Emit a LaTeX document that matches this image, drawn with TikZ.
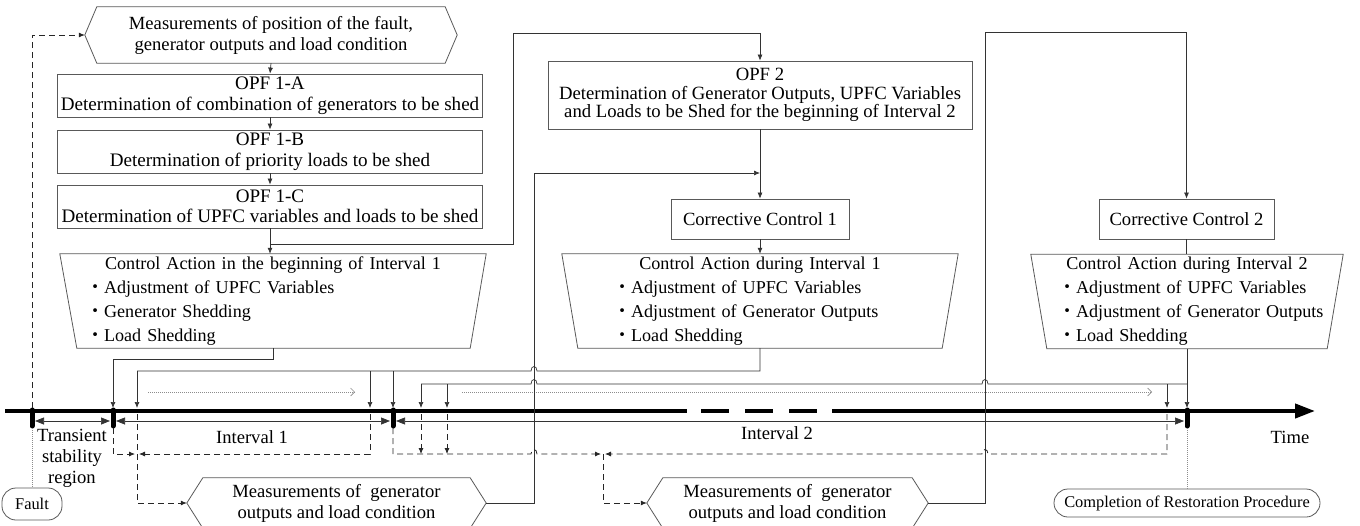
\documentclass[tikz,border=0pt]{standalone}
\usepackage{fontspec}
\setmainfont{Liberation Serif}
\newfontfamily\cjk{Noto Sans CJK JP}
\usetikzlibrary{arrows.meta}
\newcommand\bulletmark{{\cjk ・}}
\newcommand\boxfont{\fontsize{19.1}{20.5}\selectfont}
\newcommand\mainfont{\fontsize{18.6}{21}\selectfont}
\newcommand\listfont{\fontsize{18.1}{24}\selectfont}
\newcommand\smallfont{\fontsize{16.4}{18}\selectfont}

\tikzset{
  boxline/.style={draw=black!65, line width=0.8pt},
  stepbox/.style={boxline, align=center, inner sep=0pt, font=\mainfont},
  actbox/.style={align=left, inner ysep=0pt, minimum height=94pt, font=\listfont},
  hexbox/.style={align=center, inner sep=0pt, font=\mainfont},
  endbox/.style={boxline, rounded corners=14pt, inner sep=0pt, font=\smallfont},
  conn/.style={draw=black!80, line width=0.7pt},
  tip/.style={-{Latex[length=6pt,width=5pt]}},
  dashconn/.style={conn, draw=black!85, line width=0.8pt, dash pattern=on 6pt off 4pt},
  dotconn/.style={draw=black!45, line width=0.6pt, dash pattern=on 1pt off 1pt},
  tickbar/.style={line width=5pt, line cap=round},
  ivarrow/.style={{Triangle[length=9pt,width=7pt]}-{Triangle[length=9pt,width=7pt]}},
}

\begin{document}
\begin{tikzpicture}[x=1pt, y=-1pt]
\useasboundingbox (0,0) rectangle (1360,525);

% planning steps
\node[hexbox, minimum width=372pt, minimum height=56pt] (meas0) at (271,35)
  {Measurements of position of the fault,\\generator outputs and load condition};
\draw[boxline] (meas0.west) -- ([xshift=12pt]meas0.north west) -- ([xshift=-12pt]meas0.north east)
  -- (meas0.east) -- ([xshift=-12pt]meas0.south east) -- ([xshift=12pt]meas0.south west) -- cycle;
\node[stepbox, font=\boxfont, minimum width=425pt, minimum height=43pt] (opf1a) at (270,95.5)
  {OPF 1-A\\Determination of combination of generators to be shed};
\node[stepbox, font=\boxfont, minimum width=425pt, minimum height=43pt] (opf1b) at (270,151.5)
  {OPF 1-B\\Determination of priority loads to be shed};
\node[stepbox, font=\boxfont, minimum width=425pt, minimum height=43pt] (opf1c) at (270,206.5)
  {OPF 1-C\\Determination of UPFC variables and loads to be shed};
\node[stepbox, font=\fontsize{18.7}{18.5}\selectfont, minimum width=424pt, minimum height=68pt] (opf2) at (760,95)
  {OPF 2\\Determination of Generator Outputs, UPFC Variables\\and Loads to be Shed for the beginning of Interval 2};
\node[stepbox, minimum width=178pt, minimum height=40pt] (cc1) at (760,219) {Corrective Control 1};
\node[stepbox, minimum width=175pt, minimum height=40pt] (cc2) at (1186.5,219) {Corrective Control 2};

% control actions
\node[actbox, text width=374pt, inner xsep=26pt] (ca1) at (273,301)
  {\makebox[374pt][c]{Control Action in the beginning of Interval 1}\\
   \mbox{\bulletmark Adjustment of UPFC Variables}\\
   \mbox{\bulletmark Generator Shedding}\\
   \mbox{\bulletmark Load Shedding}};
\draw[boxline] (ca1.north west) -- (ca1.north east) -- ([xshift=-16pt]ca1.south east)
  -- ([xshift=17pt]ca1.south west) -- cycle;
\node[actbox, text width=294pt, inner xsep=51pt] (ca2) at (760,301)
  {\makebox[294pt][c]{Control Action during Interval 1}\\
   \mbox{\bulletmark Adjustment of UPFC Variables}\\
   \mbox{\bulletmark Adjustment of Generator Outputs}\\
   \mbox{\bulletmark Load Shedding}};
\draw[boxline] (ca2.north west) -- (ca2.north east) -- ([xshift=-16pt]ca2.south east)
  -- ([xshift=16pt]ca2.south west) -- cycle;
\node[actbox, text width=258pt, inner xsep=27pt] (ca3) at (1187,301.5)
  {\makebox[258pt][c]{Control Action during Interval 2}\\
   \mbox{\bulletmark Adjustment of UPFC Variables}\\
   \makebox[258pt][l]{\bulletmark Adjustment of Generator Outputs}\\
   \mbox{\bulletmark Load Shedding}};
\draw[boxline] (ca3.north west) -- (ca3.north east) -- ([xshift=-16pt]ca3.south east)
  -- ([xshift=16pt]ca3.south west) -- cycle;

% measurements during restoration
\node[hexbox, minimum width=299pt, minimum height=50pt] (meas1) at (336.5,503)
  {Measurements of \ generator\\outputs and load condition};
\draw[boxline] (meas1.west) -- ([xshift=16pt]meas1.north west) -- ([xshift=-16pt]meas1.north east)
  -- (meas1.east) -- ([xshift=-16pt]meas1.south east) -- ([xshift=16pt]meas1.south west) -- cycle;
\node[hexbox, minimum width=281pt, minimum height=50pt] (meas2) at (787.5,503)
  {Measurements of \ generator\\outputs and load condition};
\draw[boxline] (meas2.west) -- ([xshift=16pt]meas2.north west) -- ([xshift=-16pt]meas2.north east)
  -- (meas2.east) -- ([xshift=-16pt]meas2.south east) -- ([xshift=16pt]meas2.south west) -- cycle;
\node[endbox, minimum width=60pt, minimum height=32pt] (fault) at (32,504) {Fault};
\node[endbox, minimum width=266pt, minimum height=28pt] (done) at (1187,503)
  {Completion of Restoration Procedure};

% time axis
\coordinate (t0) at (32,411);
\coordinate (t1) at (113,411);
\coordinate (t2) at (393,411);
\coordinate (t3) at (1187,411);
\coordinate (p1) at (137,411);
\coordinate (p2) at (370,411);
\coordinate (p3) at (421,411);
\coordinate (p4) at (447,411);
\coordinate (p5) at (1167,411);
\coordinate (m1) at (137,454);
\coordinate (m2) at (603,454);
\draw[line width=4pt] (5,411) -- (687,411);
\draw[line width=4pt, dash pattern=on 28pt off 16pt] (701,411) -- (817,411);
\draw[line width=4pt, -{Triangle[length=20pt,width=14pt]}] (832,411) -- (1315,411);
\foreach \t in {t0,t1,t2,t3}
  \draw[tickbar] ([yshift=1pt]\t) -- ([yshift=-15pt]\t);
\draw[conn, ivarrow] ([xshift=3pt,yshift=-10pt]t0) -- ([xshift=-3pt,yshift=-10pt]t1);
\draw[conn, ivarrow] ([xshift=3pt,yshift=-10pt]t1) -- ([xshift=-3pt,yshift=-10pt]t2);
\draw[conn, ivarrow] ([xshift=3pt,yshift=-10pt]t2) -- ([xshift=-3pt,yshift=-10pt]t3);
\node[font=\mainfont, align=center, inner sep=0pt] (lbltr) at (72,458) {Transient\\stability\\region};
\node[font=\mainfont, inner sep=0pt] (lbl1) at (252,437) {Interval 1};
\node[font=\mainfont, inner sep=0pt] (lbl2) at (777,433) {Interval 2};
\node[font=\mainfont, inner sep=0pt] (lbltime) at (1290,437) {Time};
\draw[dotconn, -{Straight Barb[length=4pt]}] (148,392) -- (355,392);
\draw[dotconn, -{Straight Barb[length=4pt]}] (462,392) -- (1152,392);

% flow of the planning steps
\draw[dashconn, tip] ([yshift=3pt]t0) |- (meas0.west);
\draw[dotconn] ([yshift=-17pt]t0) -- (fault.north);
\draw[conn, tip] (meas0.south) -- (opf1a.north);
\draw[conn, tip] (opf1a.south) -- (opf1b.north);
\draw[conn, tip] (opf1b.south) -- (opf1c.north);
\draw[conn, tip] (opf1c.south) -- (opf1c.south |- ca1.north);
\draw[conn, tip] (opf1c.south) -- ++(0,16) -| (513,33) -| (opf2.north);
\draw[conn, tip] (opf2.south) -- (cc1.north);
\draw[conn, tip] (cc1.south) -- (ca2.north);
\draw[conn] (cc2.south) -- (cc2.south |- ca3.north);
\draw[conn, tip] (meas1.east) -| (534,173) -- (opf2.south |- 0,173);
\draw[conn, tip] (meas2.east) -| (985,32) -| (cc2.north);

% control actions onto the time axis
\draw[conn, tip] (ca1.south) -- ++(0,11) -| ([yshift=3pt]t1);
\draw[conn] (ca2.south) |- (537,371) .. controls (537,365) and (531,365) .. (531,371) -- (p1 |- 0,371);
\foreach \p in {p1,p2,t2}
  \draw[conn, tip] (\p |- 0,371) -- ([yshift=3pt]\p);
\draw[conn, tip] (ca3.south) -- ([yshift=3pt]t3);
\draw[conn] (ca3.south |- 0,384) -- (988,384) .. controls (988,378) and (982,378) .. (982,384)
  -- (537,384) .. controls (537,378) and (531,378) .. (531,384) -- (p3 |- 0,384);
\foreach \p in {p3,p4,p5}
  \draw[conn, tip] (\p |- 0,384) -- ([yshift=3pt]\p);

% measurements fed back
\draw[dashconn, tip] ([yshift=-17pt]t1) |- ([xshift=-2pt]m1);
\draw[dashconn, tip] ([yshift=-3pt]p2) |- ([xshift=2pt]m1);
\draw[dashconn, tip] ([yshift=-3pt]p1) |- (meas1.west);
\draw[dashconn, tip] ([yshift=-17pt]t2) |- (531,454) .. controls (531,448) and (537,448) .. (537,454)
  -- ([xshift=-2pt]m2);
\foreach \p in {p3,p4}
  \draw[dashconn, tip] ([yshift=-3pt]\p) -- (\p |- m2);
\draw[dashconn, tip] ([yshift=-3pt]p5) |- (988,454) .. controls (988,448) and (982,448) .. (982,454)
  -- ([xshift=2pt]m2);
\draw[dashconn, tip] (m2) |- (meas2.west);
\draw[dotconn] ([yshift=-17pt]t3) -- (done.north);
\end{tikzpicture}
\end{document}
